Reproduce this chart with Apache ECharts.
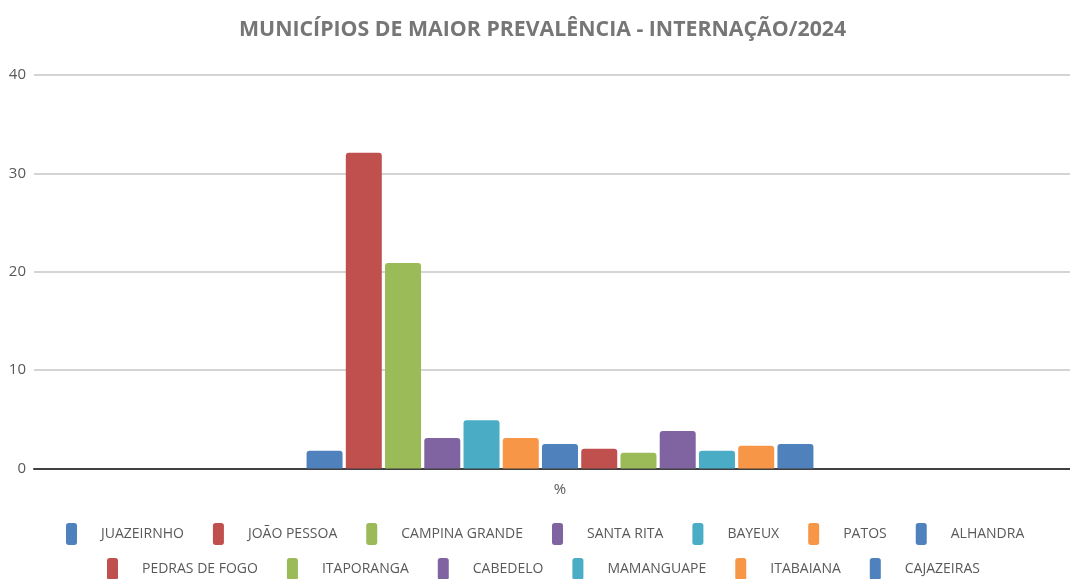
<!DOCTYPE html>
<html>
<head>
<meta charset="utf-8">
<script src="https://cdn.jsdelivr.net/npm/echarts@6/dist/echarts.min.js"></script>
<style>
  html, body { margin: 0; padding: 0; background: #fff; }
  #chart { width: 1070px; height: 579px; }
</style>
</head>
<body>
<div id="chart"></div>
<script>
// municípios e percentuais
const categories = ['%']
const municipios = [
  'JUAZEIRNHO', 'JOÃO PESSOA', 'CAMPINA GRANDE', 'SANTA RITA', 'BAYEUX', 'PATOS', 'ALHANDRA',
  'PEDRAS DE FOGO', 'ITAPORANGA', 'CABEDELO', 'MAMANGUAPE', 'ITABAIANA', 'CAJAZEIRAS'
]
const valores = [1.8, 32.1, 20.9, 3.1, 4.9, 3.1, 2.5, 2.0, 1.6, 3.8, 1.8, 2.3, 2.5]
const cores = ['#4F81BD', '#C0504D', '#9BBB59', '#8064A2', '#4BACC6', '#F79646']
const yTicks = [0, 10, 20, 30, 40]

const fonte = '"Open Sans", sans-serif'
const chartInstance = echarts.init(document.getElementById('chart'))

const series = municipios.map((nome, i) => {
  return {
    name: nome,
    type: 'bar',
    xAxisIndex: 1,
    yAxisIndex: 1,
    data: [valores[i]],
    barWidth: 36,
    barGap: '9%',
    itemStyle: {
      color: cores[i % cores.length],
      borderRadius: [3, 3, 0, 0]
    }
  }
})

const legendBase = {
  icon: 'roundRect',
  itemWidth: 11,
  itemHeight: 22,
  itemGap: 29,
  textStyle: {
    fontFamily: fonte,
    fontSize: 14,
    color: '#595959',
    padding: [0, 0, 0, 19]
  }
}

const option = {
  animation: false,
  color: cores,
  title: {
    text: 'MUNICÍPIOS DE MAIOR PREVALÊNCIA - INTERNAÇÃO/2024',
    left: 234,
    top: 14,
    textStyle: {
      fontFamily: fonte,
      fontSize: 21.3,
      fontWeight: 'bold',
      color: '#767676'
    }
  },
  legend: [
    Object.assign({}, legendBase, { top: 518, left: 61, data: municipios.slice(0, 7) }),
    Object.assign({}, legendBase, { top: 553, left: 102, data: municipios.slice(7) })
  ],
  // grid 0: eixos e linhas de grade; grid 1: barras (área de plotagem do Excel passa da borda)
  grid: [
    { left: 34, right: 0, top: 75, bottom: 110.5 },
    { left: 50, right: 0, top: 75, bottom: 110.5 }
  ],
  xAxis: [
    {
      type: 'category',
      gridIndex: 0,
      data: categories,
      axisLine: { lineStyle: { color: '#404040', width: 2 } },
      axisTick: { show: false },
      axisLabel: { show: false }
    },
    {
      type: 'category',
      gridIndex: 1,
      data: categories,
      axisLine: { show: false },
      axisTick: { show: false },
      axisLabel: {
        margin: 14,
        fontFamily: fonte,
        fontSize: 15,
        color: '#595959'
      }
    }
  ],
  yAxis: [
    {
      type: 'value',
      gridIndex: 0,
      min: yTicks[0],
      max: yTicks[yTicks.length - 1],
      interval: 10,
      axisLine: { show: false },
      axisTick: { show: false },
      axisLabel: {
        margin: 8,
        fontFamily: fonte,
        fontSize: 15,
        color: '#595959'
      },
      splitLine: { lineStyle: { color: '#d4d4d4', width: 2 } }
    },
    {
      type: 'value',
      gridIndex: 1,
      min: yTicks[0],
      max: yTicks[yTicks.length - 1],
      interval: 10,
      show: false
    }
  ],
  series: series
}

chartInstance.setOption(option)
</script>
</body>
</html>
